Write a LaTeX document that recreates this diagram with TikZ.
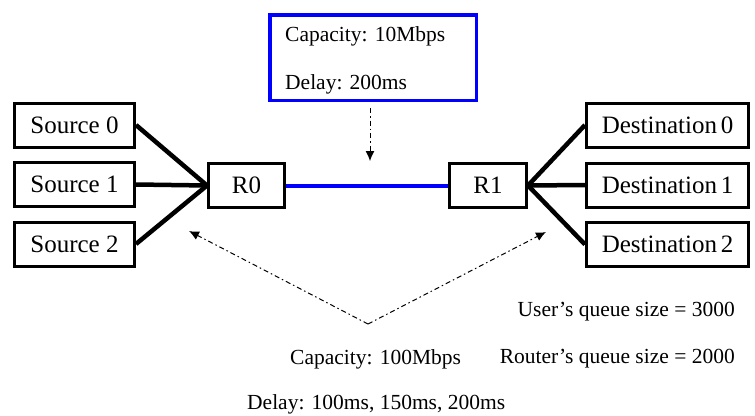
\documentclass[tikz,border=0pt]{standalone}
\usepackage{fontspec}
\setmainfont{Liberation Serif}
\usetikzlibrary{arrows.meta}
\begin{document}
\begin{tikzpicture}[x=1pt,y=-1pt,
  box/.style={draw, line width=3pt, minimum height=44pt, inner sep=0pt, font=\fontsize{25}{30}\selectfont},
  link/.style={line width=4.5pt},
  note/.style={inner sep=0pt, font=\fontsize{21.5}{26}\selectfont},
  pointer/.style={dash pattern=on 5pt off 3pt on 1.5pt off 3pt, line width=1pt, -{Latex[length=10pt,width=9pt]}}
]
\useasboundingbox (0,0) rectangle (755,415);
% sources
\node[box, minimum width=120pt] (s0) at (74.5,125) {Source 0};
\node[box, minimum width=120pt] (s1) at (74.5,184.5) {Source 1};
\node[box, minimum width=120pt] (s2) at (74.5,244) {Source 2};
% routers
\node[box, minimum width=76pt] (r0) at (246.5,185.5) {R0};
\node[box, minimum width=77pt] (r1) at (488,185.5) {R1};
% destinations
\node[box, minimum width=162pt] (d0) at (667.5,125) {Destination\hspace{0.15em}0};
\node[box, minimum width=162pt] (d1) at (667.5,185) {Destination\hspace{0.15em}1};
\node[box, minimum width=162pt] (d2) at (667.5,244.5) {Destination\hspace{0.15em}2};
% links
\draw[link] (s0.east) -- (r0.west);
\draw[link] (s1.east) -- (r0.west);
\draw[link] (s2.east) -- (r0.west);
\draw[link] (r1.east) -- (d0.west);
\draw[link] (r1.east) -- (d1.west);
\draw[link] (r1.east) -- (d2.west);
\draw[blue, line width=4pt] (r0.east) -- (r1.west);
% bottleneck box
\node[draw=blue, line width=3.5pt, minimum width=206.5pt, minimum height=85.5pt, inner sep=0pt] (cap) at (373,57.5) {};
\node[note, anchor=base west] (capt) at (285,41) {Capacity: 10Mbps};
\node[note, anchor=base west] (delt) at (285,89) {Delay: 200ms};
\coordinate (capfoot) at (370,108);
\coordinate (captip) at (370,161);
\draw[pointer] (capfoot) -- (captip);
% access links annotation
\coordinate (apex) at (368,324);
\coordinate (tipl) at (189,231);
\coordinate (tipr) at (546,232);
\draw[pointer] (apex) -- (tipl);
\draw[pointer] (apex) -- (tipr);
\node[note, anchor=base west] (acap) at (290,364) {Capacity: 100Mbps};
\node[note, anchor=base west] (adel) at (247,409) {Delay: 100ms, 150ms, 200ms};
\node[note, anchor=base east] (uq) at (735,316) {User’s queue size = 3000};
\node[note, anchor=base east] (rq) at (735,363) {Router’s queue size = 2000};
\end{tikzpicture}
\end{document}
